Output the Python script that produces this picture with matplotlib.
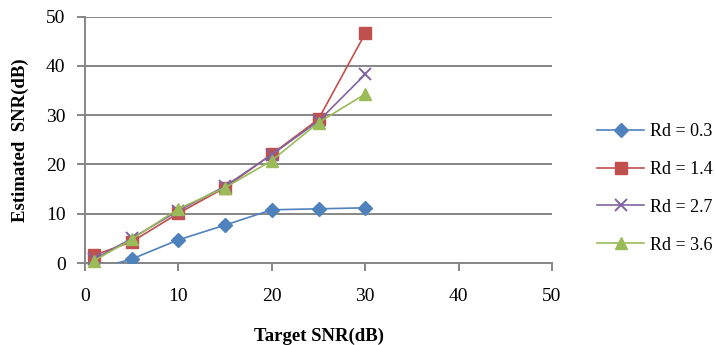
import matplotlib
matplotlib.use("Agg")
import matplotlib.pyplot as plt

plt.rcParams['font.family'] = ['Liberation Serif', 'DejaVu Serif']

target_snr = [1, 5, 10, 15, 20, 25, 30]
series_labels = ["Rd = 0.3", "Rd = 1.4", "Rd = 2.7", "Rd = 3.6"]
est_rd03 = [-1.3, 0.8, 4.7, 7.7, 10.8, 11.0, 11.2]
est_rd14 = [1.6, 4.3, 10.1, 15.3, 22.1, 29.2, 46.6]
est_rd27 = [0.8, 5.0, 10.6, 15.6, 22.0, 28.8, 38.3]
est_rd36 = [0.5, 4.8, 11.0, 15.3, 20.8, 28.5, 34.3]
x_ticks = [0, 10, 20, 30, 40, 50]
y_ticks = [0, 10, 20, 30, 40, 50]

colors = ["#4F81BD", "#C0504D", "#8064A2", "#9BBB59"]
markers = ["D", "s", "x", "^"]
msizes = [7.5, 8, 8.5, 9]

fig = plt.figure(figsize=(7.15, 3.45), dpi=100)
W, H = 715, 345
ax = fig.add_axes([85 / W, 1 - 263 / H, (552 - 85) / W, (263 - 16.7) / H])

for i, ys in enumerate([est_rd03, est_rd14, est_rd27, est_rd36]):
    kw = dict(color=colors[i], marker=markers[i], markersize=msizes[i],
              linewidth=1.2, label=series_labels[i], zorder=3 + i)
    if markers[i] == "x":
        kw.update(markeredgewidth=1.4)
    ax.plot(target_snr, ys, clip_on=(i == 0), **kw)

ax.set_xlim(0, 50)
ax.set_ylim(0, 50)
ax.set_xticks(x_ticks)
ax.set_yticks(y_ticks)
ax.grid(axis='y', color="#868686", linewidth=1.4)
ax.set_axisbelow(True)
for side in ["top", "right"]:
    ax.spines[side].set_visible(False)
for side in ["left", "bottom"]:
    ax.spines[side].set_color("#868686")
    ax.spines[side].set_linewidth(1.4)
ax.tick_params(axis='both', colors="#868686", width=1.4, length=6,
               labelcolor="black", labelsize=14)
ax.tick_params(axis='x', pad=12)
ax.tick_params(axis='y', pad=8)

ax.set_xlabel("Target SNR(dB)", fontsize=13.5, fontweight='bold', labelpad=16)
ax.set_ylabel("Estimated  SNR(dB)", fontsize=13.5, fontweight='bold', labelpad=12)

leg = fig.legend(loc="upper left", bbox_to_anchor=(590 / W, 1 - 116 / H),
                 frameon=False, fontsize=13, handlelength=2.6,
                 labelspacing=1.15, handletextpad=0.3, borderaxespad=0)

fig.savefig("out.png", dpi=100, facecolor="white")
